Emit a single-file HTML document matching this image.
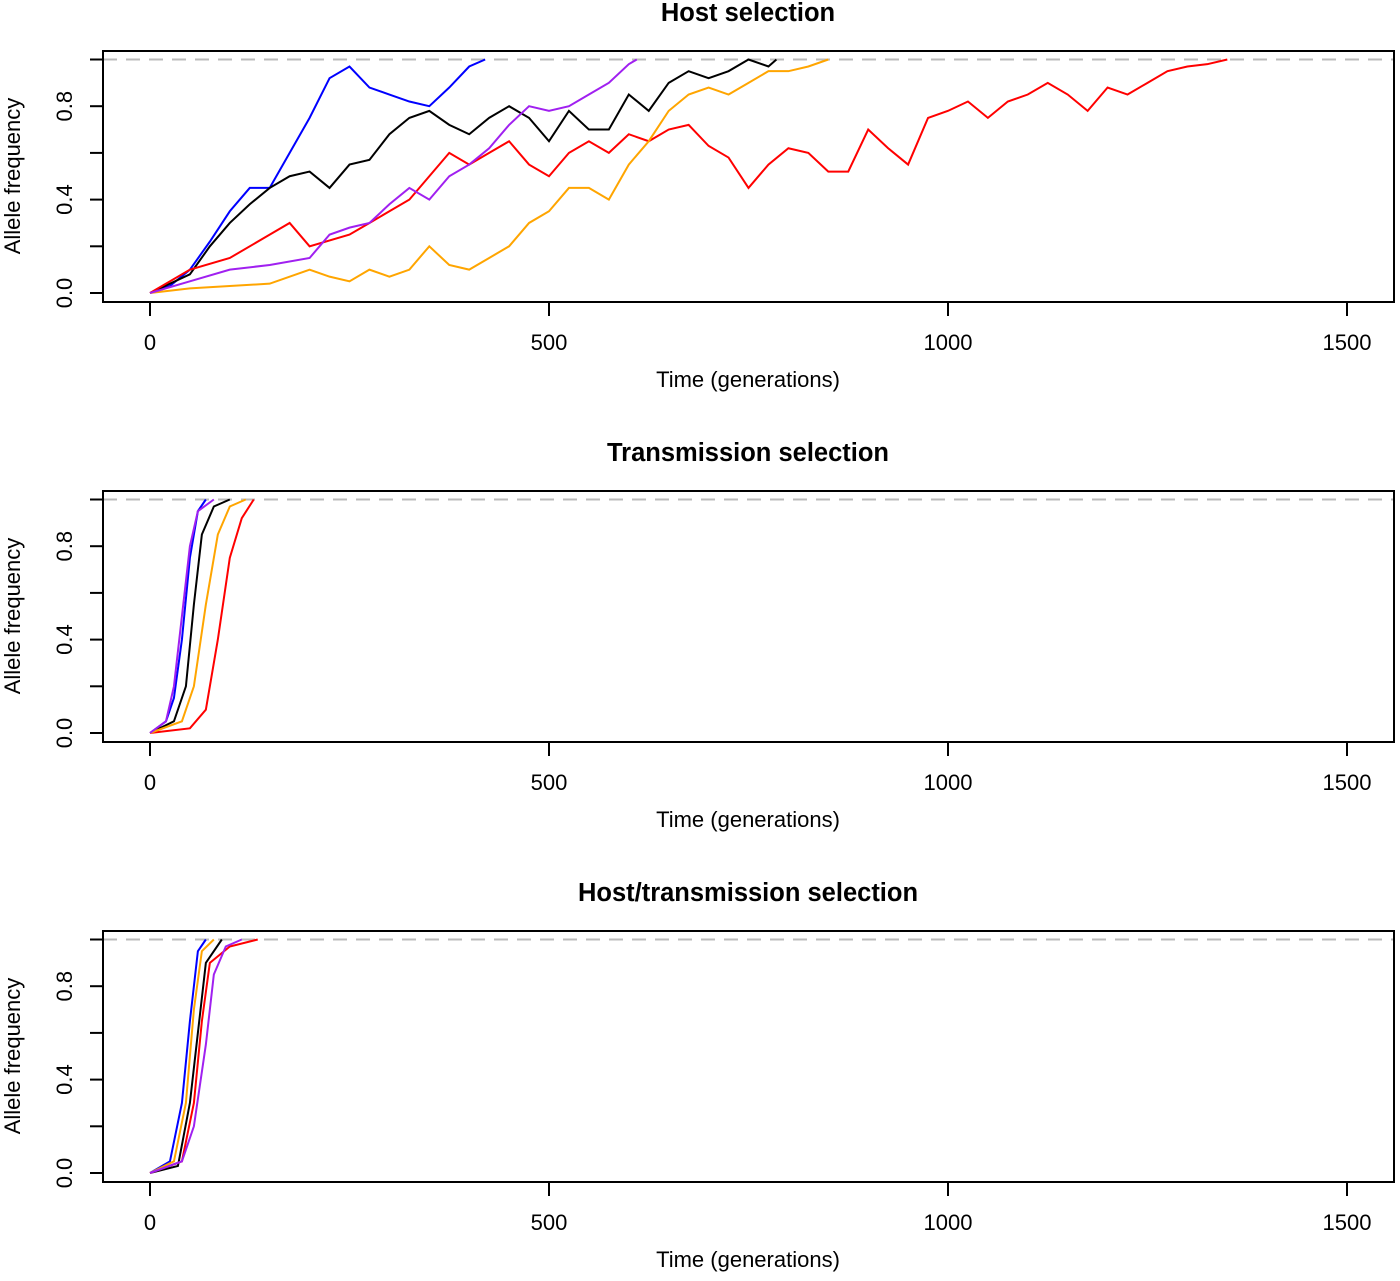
<!DOCTYPE html>
<html><head><meta charset="utf-8"><style>
body{margin:0;background:#fff}
svg text{font-family:"Liberation Sans",Arial,sans-serif}
</style></head><body>
<svg id="chart" width="1400" height="1276" xmlns="http://www.w3.org/2000/svg"></svg>
<script>
const panelTitles = ["Host selection","Transmission selection","Host/transmission selection"];
const seriesColors = ["blue","black","red","orange","#a020f0"];
const seriesNames = ["blue","black","red","orange","purple"];
const xTicks = [0,500,1000,1500];
const yTicks = [0,0.2,0.4,0.6,0.8,1.0];
const yLabels = ["0.0","","0.4","","0.8",""];
// Panel 1 (gen, freq)
const p1Blue = [[0,0],[25,0.03],[50,0.1],[75,0.22],[100,0.35],[125,0.45],[150,0.45],[175,0.6],[200,0.75],[225,0.92],[250,0.97],[275,0.88],[300,0.85],[325,0.82],[350,0.8],[375,0.88],[400,0.97],[420,1.0]];
const p1Black = [[0,0],[50,0.08],[75,0.2],[100,0.3],[125,0.38],[150,0.45],[175,0.5],[200,0.52],[225,0.45],[250,0.55],[275,0.57],[300,0.68],[325,0.75],[350,0.78],[375,0.72],[400,0.68],[425,0.75],[450,0.8],[475,0.75],[500,0.65],[525,0.78],[550,0.7],[575,0.7],[600,0.85],[625,0.78],[650,0.9],[675,0.95],[700,0.92],[725,0.95],[750,1.0],[775,0.97],[785,1.0]];
const p1Red = [[0,0],[50,0.1],[100,0.15],[150,0.25],[175,0.3],[200,0.2],[250,0.25],[275,0.3],[300,0.35],[325,0.4],[350,0.5],[375,0.6],[400,0.55],[425,0.6],[450,0.65],[475,0.55],[500,0.5],[525,0.6],[550,0.65],[575,0.6],[600,0.68],[625,0.65],[650,0.7],[675,0.72],[700,0.63],[725,0.58],[750,0.45],[775,0.55],[800,0.62],[825,0.6],[850,0.52],[875,0.52],[900,0.7],[925,0.62],[950,0.55],[975,0.75],[1000,0.78],[1025,0.82],[1050,0.75],[1075,0.82],[1100,0.85],[1125,0.9],[1150,0.85],[1175,0.78],[1200,0.88],[1225,0.85],[1250,0.9],[1275,0.95],[1300,0.97],[1325,0.98],[1350,1.0]];
const p1Orange = [[0,0],[50,0.02],[100,0.03],[150,0.04],[200,0.1],[225,0.07],[250,0.05],[275,0.1],[300,0.07],[325,0.1],[350,0.2],[375,0.12],[400,0.1],[425,0.15],[450,0.2],[475,0.3],[500,0.35],[525,0.45],[550,0.45],[575,0.4],[600,0.55],[625,0.65],[650,0.78],[675,0.85],[700,0.88],[725,0.85],[750,0.9],[775,0.95],[800,0.95],[825,0.97],[850,1.0]];
const p1Purple = [[0,0],[50,0.05],[100,0.1],[150,0.12],[200,0.15],[225,0.25],[250,0.28],[275,0.3],[300,0.38],[325,0.45],[350,0.4],[375,0.5],[400,0.55],[425,0.62],[450,0.72],[475,0.8],[500,0.78],[525,0.8],[550,0.85],[575,0.9],[600,0.98],[610,1.0]];
// Panel 2
const p2Blue = [[0,0],[20,0.05],[30,0.15],[40,0.4],[50,0.75],[60,0.95],[70,1.0]];
const p2Black = [[0,0],[30,0.05],[45,0.2],[55,0.55],[65,0.85],[80,0.97],[100,1.0]];
const p2Red = [[0,0],[50,0.02],[70,0.1],[85,0.4],[100,0.75],[115,0.92],[130,1.0]];
const p2Orange = [[0,0],[40,0.05],[55,0.2],[70,0.55],[85,0.85],[100,0.97],[120,1.0]];
const p2Purple = [[0,0],[20,0.05],[30,0.2],[40,0.5],[50,0.8],[60,0.95],[80,1.0]];
// Panel 3
const p3Blue = [[0,0],[25,0.05],[40,0.3],[50,0.65],[60,0.95],[70,1.0]];
const p3Black = [[0,0],[35,0.03],[50,0.3],[60,0.6],[70,0.9],[90,1.0]];
const p3Red = [[0,0],[40,0.05],[55,0.3],[65,0.65],[75,0.9],[100,0.97],[135,1.0]];
const p3Orange = [[0,0],[30,0.05],[45,0.3],[55,0.7],[65,0.95],[80,1.0]];
const p3Purple = [[0,0],[40,0.05],[55,0.2],[70,0.55],[80,0.85],[95,0.97],[115,1.0]];
const panelData = [[p1Blue,p1Black,p1Red,p1Orange,p1Purple],[p2Blue,p2Black,p2Red,p2Orange,p2Purple],[p3Blue,p3Black,p3Red,p3Orange,p3Purple]];

const svg = document.getElementById('chart');
const NS = 'http://www.w3.org/2000/svg';
function mk(tag, attrs, parent){const e=document.createElementNS(NS,tag);for(const k in attrs)e.setAttribute(k,attrs[k]);parent.appendChild(e);return e;}
const xs = g => 150 + g*0.798;
panelData.forEach((series, p) => {
  const off = p*440;
  const ys = f => 293 + off - f*233.5;
  const g = mk('g',{},svg);
  
  
  const t = mk('text',{x:748,y:21+off,'text-anchor':'middle','font-size':25.5,'font-weight':'bold'},g);
  t.textContent = panelTitles[p];
  
  
  const dl = mk('line',{x1:103,x2:1394,y1:ys(1),y2:ys(1),stroke:'#bbb','stroke-width':2,'stroke-dasharray':'14,9'},g);
  
  
  series.forEach((s, i) => {
    const pl = mk('polyline',{points:s.map(d=>xs(d[0])+','+ys(d[1])).join(' '),fill:'none',stroke:seriesColors[i],'stroke-width':2},g);
    
    
  });
  const box = mk('rect',{x:103,y:51+off,width:1291,height:251,fill:'none',stroke:'#000','stroke-width':2},g);
  
  
  xTicks.forEach(v => {
    const tl = mk('line',{x1:xs(v),x2:xs(v),y1:302+off,y2:316+off,stroke:'#000','stroke-width':2},g);
    
    
    const tx = mk('text',{x:xs(v),y:350+off,'text-anchor':'middle','font-size':22},g);
    tx.textContent = v;
    
    
  });
  yTicks.forEach((v, i) => {
    const tl = mk('line',{x1:90,x2:103,y1:ys(v),y2:ys(v),stroke:'#000','stroke-width':2},g);
    
    
    if (yLabels[i]) {
      const tx = mk('text',{x:0,y:0,'text-anchor':'middle','font-size':22,transform:'translate(72,'+ys(v)+') rotate(-90)'},g);
      tx.textContent = yLabels[i];
      
      
    }
  });
  const xl = mk('text',{x:748,y:387+off,'text-anchor':'middle','font-size':22},g);
  xl.textContent = 'Time (generations)';
  
  
  const yl = mk('text',{x:0,y:0,'text-anchor':'middle','font-size':22,transform:'translate(20,'+(176+off)+') rotate(-90)'},g);
  yl.textContent = 'Allele frequency';
  
  
});
</script>
</body></html>
